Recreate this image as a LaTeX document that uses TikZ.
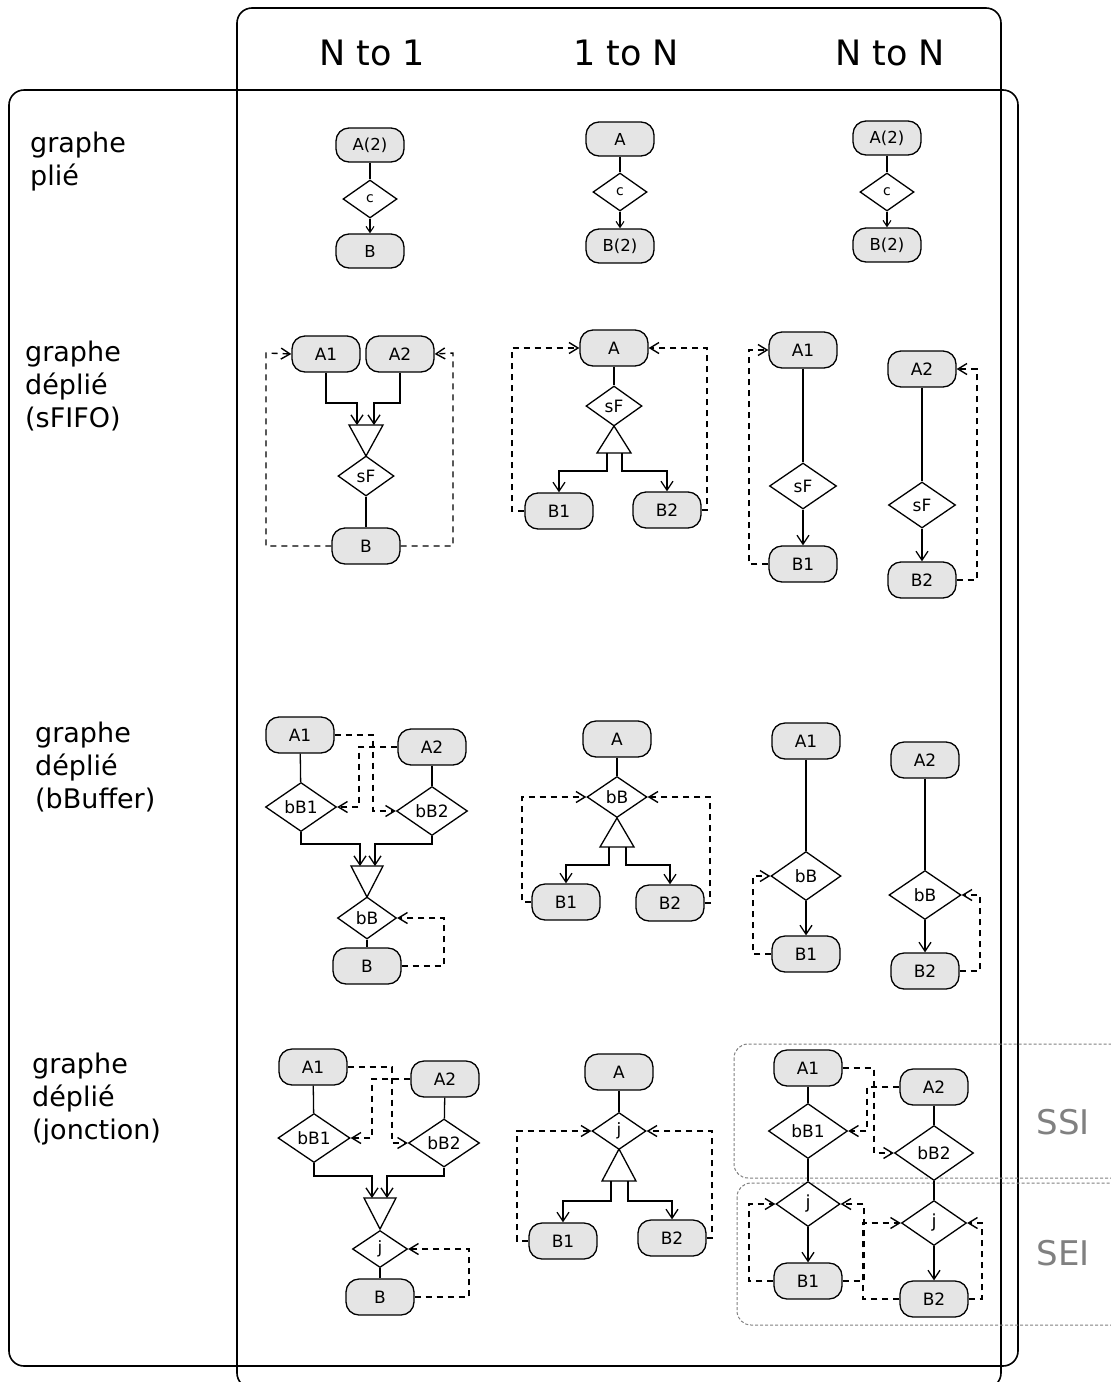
\documentclass[tikz,border=0pt]{standalone}
\usepackage{fontspec}
\setmainfont{DejaVu Sans}
\usetikzlibrary{shapes.geometric,arrows.meta}
\begin{document}
\begin{tikzpicture}[x=1pt,y=-1pt]
\tikzset{etat/.style={draw,fill=gray!20,rounded corners=13pt,minimum width=68pt,minimum height=36pt,inner sep=0pt,line width=1.3pt,font=\fontsize{17}{20}\selectfont},
petit/.style={minimum height=34pt,font=\fontsize{16.5}{19}\selectfont},
dec/.style={draw,diamond,fill=white,inner sep=0pt,line width=1.3pt,font=\fontsize{17}{20}\selectfont},
fl/.style={line width=1.3pt,-{Straight Barb[length=9pt,width=12pt]}},
fl1/.style={line width=1.1pt,-{Straight Barb[length=6pt,width=8pt]}},
rt/.style={line width=1.4pt,dash pattern=on 6pt off 5pt,-{Straight Barb[length=9pt,width=11pt]}},
cadre/.style={line width=1.6pt,rounded corners=15pt},
zone/.style={draw=gray,line width=1pt,dash pattern=on 3pt off 2pt,rounded corners=14pt},
titre/.style={font=\fontsize{35}{40}\selectfont},
ligne/.style={anchor=north west,align=left,inner sep=0pt,font=\fontsize{27}{33}\selectfont}}
\useasboundingbox (0,0) rectangle (1111,1382);
\draw[cadre] (237,8) rectangle (1001,1388);
\draw[cadre] (9,90) rectangle (1018,1366);
\node[titre] (tN1) at (372,53) {N to 1};
\node[titre] (t1N) at (626,53) {1 to N};
\node[titre] (tNN) at (890,53) {N to N};
\node[ligne] (lp) at (30,132) {graphe\\plié};
\node[ligne] (ls) at (25,341) {graphe\\déplié\\(sFIFO)};
\node[ligne] (lb) at (35,722) {graphe\\déplié\\(bBuffer)};
\node[ligne] (lj) at (32,1053) {graphe\\déplié\\(jonction)};
\draw[zone] (734,1044) rectangle (1125,1178);
\draw[zone] (737,1183) rectangle (1125,1325);
\node[text=gray,font=\fontsize{34}{40}\selectfont] (ssi) at (1063,1122) {SSI};
\node[text=gray,font=\fontsize{34}{40}\selectfont] (sei) at (1063,1253) {SEI};

\node[etat,petit] (plA) at (370,145) {A(2)};
\node[dec,minimum width=54pt,minimum height=38pt,font=\fontsize{14}{17}\selectfont] (plc) at (370,199) {c};
\node[etat,petit] (plB) at (370,251) {B};
\draw[line width=1.1pt] (plA) -- (plc); \draw[fl1] (plc) -- (plB);
\node[etat,petit] (pmA) at (620,139) {A};
\node[dec,minimum width=54pt,minimum height=38pt,font=\fontsize{14}{17}\selectfont] (pmc) at (620,192) {c};
\node[etat,petit] (pmB) at (620,246) {B(2)};
\draw[line width=1.1pt] (pmA) -- (pmc); \draw[fl1] (pmc) -- (pmB);
\node[etat,petit] (prA) at (887,138) {A(2)};
\node[dec,minimum width=54pt,minimum height=38pt,font=\fontsize{14}{17}\selectfont] (prc) at (887,192) {c};
\node[etat,petit] (prB) at (887,245) {B(2)};
\draw[line width=1.1pt] (prA) -- (prc); \draw[fl1] (prc) -- (prB);

\node[etat] (slA1) at (326,354) {A1};
\node[etat] (slA2) at (400,354) {A2};
\coordinate (slT) at (366,425);
\draw[line width=1.3pt] (slT) ++(-17,0) -- ++(34,0) -- (366,456) -- cycle;
\node[dec,minimum width=56pt,minimum height=40pt] (slF) at (366,476) {sF};
\node[etat] (slB) at (366,546) {B};
\draw[fl] (slA1) |- ([xshift=-9pt,yshift=22pt]slT) -- ([xshift=-9pt]slT);
\draw[fl] (slA2) |- ([xshift=8pt,yshift=22pt]slT) -- ([xshift=8pt]slT);
\draw[line width=1.3pt] (slF) -- (slB);
\draw[rt] (slB.west) -| (266,353) -- (slA1.west);
\draw[rt] (slB.east) -| (453,353) -- (slA2.east);

\node[etat] (smA) at (614,348) {A};
\node[dec,minimum width=56pt,minimum height=40pt] (smF) at (614,406) {sF};
\coordinate (smU) at (614,453);
\draw[line width=1.3pt] (smU) ++(-17,0) -- ++(34,0) -- (614,426) -- cycle;
\node[etat] (smB1) at (559,511) {B1};
\node[etat] (smB2) at (667,510) {B2};
\draw[line width=1.3pt] (smA) -- (smF);
\draw[fl] ([xshift=-7pt]smU) -- ++(0,18) -| (smB1);
\draw[fl] ([xshift=8pt]smU) -- ++(0,18) -| (smB2);
\draw[rt] (smB1.west) -| (512,348) -- (smA.west);
\draw[rt] (smB2.east) -| (707,348) -- (smA.east);

\node[etat] (srA1) at (803,350) {A1};
\node[dec,minimum width=67pt,minimum height=46pt] (srF1) at (803,486) {sF};
\node[etat] (srB1) at (803,564) {B1};
\node[etat] (srA2) at (922,369) {A2};
\node[dec,minimum width=67pt,minimum height=46pt] (srF2) at (922,505) {sF};
\node[etat] (srB2) at (922,580) {B2};
\draw[line width=1.3pt] (srA1) -- (srF1); \draw[fl] (srF1) -- (srB1);
\draw[line width=1.3pt] (srA2) -- (srF2); \draw[fl] (srF2) -- (srB2);
\draw[rt] (srB1.west) -| (749,350) -- (srA1.west);
\draw[rt] (srB2.east) -| (977,369) -- (srA2.east);

\node[etat] (blA1) at (300,735) {A1};
\node[etat] (blA2) at (432,747) {A2};
\node[dec,minimum width=71pt,minimum height=49pt] (blD1) at (301,807) {bB1};
\node[dec,minimum width=71pt,minimum height=49pt] (blD2) at (432,811) {bB2};
\coordinate (blT) at (367,866);
\draw[line width=1.3pt] (blT) ++(-16,0) -- ++(32,0) -- (367,897) -- cycle;
\node[dec,minimum width=59pt,minimum height=42pt] (blF) at (367,918) {bB};
\node[etat] (blB) at (367,966) {B};
\draw[line width=1.3pt] (blA1) -- (blD1); \draw[line width=1.3pt] (blA2) -- (blD2);
\draw[fl] (blD1) |- ([xshift=-7pt,yshift=22pt]blT) -- ([xshift=-7pt]blT);
\draw[fl] (blD2) |- ([xshift=8pt,yshift=22pt]blT) -- ([xshift=8pt]blT);
\draw[line width=1.3pt] (blF) -- (blB);
\draw[rt] (blB.east) -| (444,918) -- (blF.east);
\draw[rt] (blA1.east) -| (373,811) -- (blD2.west);
\draw[rt] (blA2.west) -| (359,807) -- (blD1.east);

\node[etat] (bmA) at (617,739) {A};
\node[dec,minimum width=60pt,minimum height=41pt] (bmF) at (617,797) {bB};
\coordinate (bmU) at (617,847);
\draw[line width=1.3pt] (bmU) ++(-17,0) -- ++(34,0) -- (617,818) -- cycle;
\node[etat] (bmB1) at (566,902) {B1};
\node[etat] (bmB2) at (670,903) {B2};
\draw[line width=1.3pt] (bmA) -- (bmF);
\draw[fl] ([xshift=-8pt]bmU) -- ++(0,18) -| (bmB1);
\draw[fl] ([xshift=9pt]bmU) -- ++(0,18) -| (bmB2);
\draw[rt] (bmB1.west) -| (522,797) -- (bmF.west);
\draw[rt] (bmB2.east) -| (710,797) -- (bmF.east);

\node[etat] (brA1) at (806,741) {A1};
\node[dec,minimum width=70pt,minimum height=49pt] (brF1) at (806,876) {bB};
\node[etat] (brB1) at (806,954) {B1};
\node[etat] (brA2) at (925,760) {A2};
\node[dec,minimum width=72pt,minimum height=49pt] (brF2) at (925,895) {bB};
\node[etat] (brB2) at (925,971) {B2};
\draw[line width=1.3pt] (brA1) -- (brF1); \draw[fl] (brF1) -- (brB1);
\draw[line width=1.3pt] (brA2) -- (brF2); \draw[fl] (brF2) -- (brB2);
\draw[rt] (brB1.west) -| (753,876) -- (brF1.west);
\draw[rt] (brB2.east) -| (980,895) -- (brF2.east);

\node[etat] (jlA1) at (313,1067) {A1};
\node[etat] (jlA2) at (445,1079) {A2};
\node[dec,minimum width=72pt,minimum height=49pt] (jlD1) at (314,1138) {bB1};
\node[dec,minimum width=71pt,minimum height=48pt] (jlD2) at (444,1143) {bB2};
\coordinate (jlT) at (380,1198);
\draw[line width=1.3pt] (jlT) ++(-16,0) -- ++(32,0) -- (380,1229) -- cycle;
\node[dec,minimum width=55pt,minimum height=37pt] (jlF) at (380,1249) {j};
\node[etat] (jlB) at (380,1297) {B};
\draw[line width=1.3pt] (jlA1) -- (jlD1); \draw[line width=1.3pt] (jlA2) -- (jlD2);
\draw[fl] (jlD1) |- ([xshift=-8pt,yshift=22pt]jlT) -- ([xshift=-8pt]jlT);
\draw[fl] (jlD2) |- ([xshift=7pt,yshift=22pt]jlT) -- ([xshift=7pt]jlT);
\draw[line width=1.3pt] (jlF) -- (jlB);
\draw[rt] (jlB.east) -| (469,1249) -- (jlF.east);
\draw[rt] (jlA1.east) -| (392,1143) -- (jlD2.west);
\draw[rt] (jlA2.west) -| (372,1138) -- (jlD1.east);

\node[etat] (jmA) at (619,1072) {A};
\node[dec,minimum width=54pt,minimum height=37pt] (jmF) at (619,1131) {j};
\coordinate (jmU) at (619,1181);
\draw[line width=1.3pt] (jmU) ++(-17,0) -- ++(34,0) -- (619,1149) -- cycle;
\node[etat] (jmB1) at (563,1241) {B1};
\node[etat] (jmB2) at (672,1238) {B2};
\draw[line width=1.3pt] (jmA) -- (jmF);
\draw[fl] ([xshift=-8pt]jmU) -- ++(0,20) -| (jmB1);
\draw[fl] ([xshift=9pt]jmU) -- ++(0,20) -| (jmB2);
\draw[rt] (jmB1.west) -| (517,1131) -- (jmF.west);
\draw[rt] (jmB2.east) -| (712,1131) -- (jmF.east);

\node[etat] (jrA1) at (808,1068) {A1};
\node[dec,minimum width=79pt,minimum height=55pt] (jrD1) at (808,1131) {bB1};
\node[dec,minimum width=64pt,minimum height=45pt,font=\fontsize{18}{21}\selectfont] (jrF1) at (808,1204) {j};
\node[etat] (jrB1) at (808,1281) {B1};
\node[etat] (jrA2) at (934,1087) {A2};
\node[dec,minimum width=79pt,minimum height=55pt] (jrD2) at (934,1153) {bB2};
\node[dec,minimum width=65pt,minimum height=45pt,font=\fontsize{18}{21}\selectfont] (jrF2) at (934,1223) {j};
\node[etat] (jrB2) at (934,1299) {B2};
\draw[line width=1.3pt] (jrA1) -- (jrD1) -- (jrF1); \draw[fl] (jrF1) -- (jrB1);
\draw[line width=1.3pt] (jrA2) -- (jrD2) -- (jrF2); \draw[fl] (jrF2) -- (jrB2);
\draw[rt] (jrA1.east) -| (874,1153) -- (jrD2.west);
\draw[rt] (jrA2.west) -| (867,1131) -- (jrD1.east);
\draw[rt] (jrB1.west) -| (749,1204) -- (jrF1.west);
\draw[rt] (jrB1.east) -| (864,1204) -- (jrF1.east);
\draw[rt] (jrB2.west) -| (863,1223) -- (jrF2.west);
\draw[rt] (jrB2.east) -| (982,1223) -- (jrF2.east);
\end{tikzpicture}
\end{document}
